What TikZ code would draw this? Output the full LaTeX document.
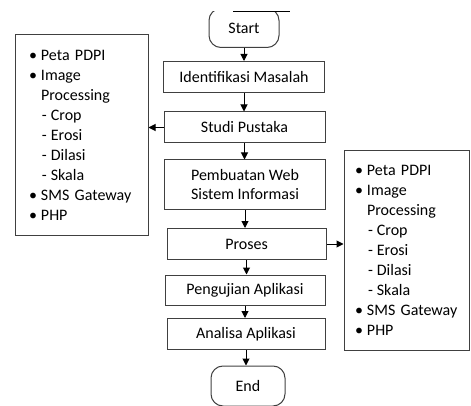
\documentclass[tikz,border=0pt]{standalone}
\usepackage{fontspec}
\setmainfont{Carlito}
\usepackage{tikz}
\usetikzlibrary{arrows.meta}
\usetikzlibrary{positioning}

\newcommand{\pitem}[1]{\makebox[12pt][l]{\makebox[8pt][c]{\textbullet}}#1}
\newcommand{\pdash}[1]{\hspace*{13pt}-\hspace{4pt}#1}
\newcommand{\alatlist}{%
	\pitem{Peta PDPI}\\
	\pitem{Image}\\
	\hspace*{12pt}Processing\\
	\pdash{Crop}\\
	\pdash{Erosi}\\
	\pdash{Dilasi}\\
	\pdash{Skala}\\
	\pitem{SMS Gateway}\\
	\pitem{PHP}}

\begin{document}
\begin{tikzpicture}[x=1pt,y=-1pt,
		font=\fontsize{16}{20}\selectfont,
		box/.style={draw=black!75, line width=1pt, minimum width=161pt, minimum height=31pt, inner sep=0pt, align=center},
		term/.style={draw=black!75, line width=1pt, rounded corners=12pt, minimum width=70pt, minimum height=39pt, inner sep=0pt},
		listbox/.style={draw=black!75, line width=1pt, inner ysep=0pt, minimum height=200pt, align=left},
		arr/.style={-{Triangle[length=7pt,width=7pt]}, line width=1pt}]
			\useasboundingbox (0,0) rectangle (471,406);
			\clip (0,0) rectangle (471,406);
			
			% Flow
			\begin{scope}
				\clip (0,12) rectangle (471,406);
				\node[term] (start) at (244,28) {Start};
			\end{scope}
			\draw[line width=1pt] (233,12) -- (290,12);
			
			\node[box] (ident) at (244,77) {Identifikasi Masalah};
			\node[box] (studi) at (244.5,127.5) {Studi Pustaka};
			\node[box, minimum height=50pt] (buat) at (245,185) {Pembuatan Web\\[-1pt]Sistem Informasi};
			\node[box, minimum width=159pt] (proses) at (246.5,244) {Proses};
			\node[box, minimum width=160pt, minimum height=30pt] (uji) at (245,290) {Pengujian Aplikasi};
			\node[box, minimum width=158pt] (analisa) at (246,334) {Analisa Aplikasi};
			\node[term, minimum width=74pt, minimum height=40pt] (end) at (248,386) {End};
			
			% Lists
			\node[listbox, inner xsep=14pt, text width=105pt] (kiri) at (81.5,135) {\alatlist};
			\node[listbox, inner xsep=11pt, text width=103pt] (kanan) at (406.5,250.5) {\alatlist};
			
			% Arrows
			\draw[arr] (start.south) -- (start.south |- ident.north);
			\draw[arr] (ident.south) -- (ident.south |- studi.north);
			\draw[arr] (studi.south) -- (studi.south |- buat.north);
			\draw[arr] (buat.south) -- (buat.south |- proses.north);
			\draw[arr] (proses.south) -- (proses.south |- uji.north);
			\draw[arr] (uji.south) -- (uji.south |- analisa.north);
			\draw[arr] (analisa.south) -- (analisa.south |- end.north);
			\draw[arr] (studi.west) -- (kiri.east |- studi.west);
			\draw[arr] (proses.east) -- (kanan.west |- proses.east);
\end{tikzpicture}
\end{document}
